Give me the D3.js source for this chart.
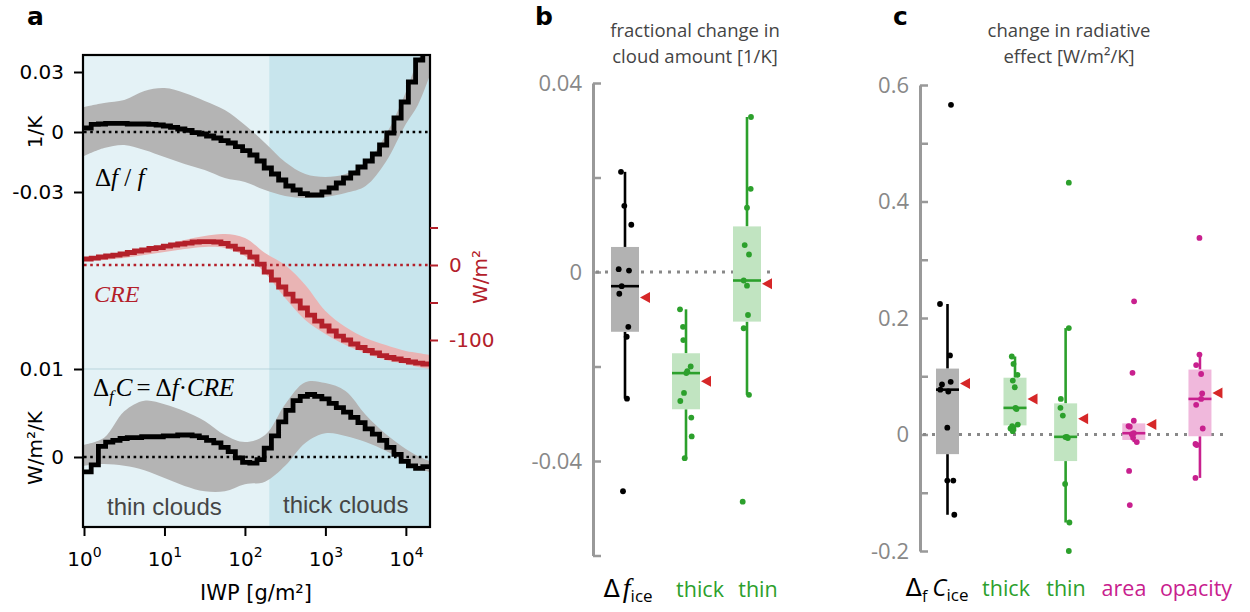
<!DOCTYPE html>
<html><head><meta charset="utf-8">
<script src="https://cdn.jsdelivr.net/npm/d3@7/dist/d3.min.js"></script>
<style>html,body{margin:0;padding:0;background:#fff}svg{display:block}</style>
</head><body>
<svg id="chart" width="1250" height="612"></svg>
<script>
// ================= DATA =================
// Panel a: IWP bins (log-spaced grid, 10^0 .. 10^4.3)
const iwpMaxExp = 4.3;
const nBins = 48;
const iwpEdges = d3.range(nBins + 1).map(i => Math.pow(10, i * iwpMaxExp / nBins));
const thickStart = 200; // g/m2, thin / thick cloud boundary
const xTicksA = [1, 10, 100, 1000, 10000];

// fractional change in cloud amount  Δf/f  [1/K]
const dff = [0.0020, 0.0038, 0.0040, 0.0043, 0.0043, 0.0043, 0.0040, 0.0040, 0.0040, 0.0038,
  0.0035, 0.0030, 0.0023, 0.0015, 0.0008, -0.0003, -0.0010, -0.0020, -0.0030, -0.0043,
  -0.0055, -0.0073, -0.0093, -0.0115, -0.0145, -0.0180, -0.0210, -0.0240, -0.0270, -0.0290,
  -0.0308, -0.0315, -0.0315, -0.0300, -0.0280, -0.0255, -0.0230, -0.0205, -0.0175, -0.0145,
  -0.0110, -0.0065, -0.0005, 0.0070, 0.0150, 0.0250, 0.0360, 0.0460];
// cloud radiative effect CRE [W/m2]
const cre = [8, 9.3, 10.7, 12, 13.3, 14.7, 16.7, 18.7, 20, 22,
  23.3, 25.3, 26.7, 28, 29.3, 30.7, 31.3, 31.3, 30.7, 28.7,
  25.3, 21.3, 17.3, 10.7, 1.3, -9.3, -20, -29.3, -38.7, -48,
  -57.3, -66.7, -74.7, -81.3, -88, -94.7, -100, -105.3, -110, -114,
  -117.3, -120.7, -123.3, -125.3, -127.3, -129.3, -130.7, -132];
// Δ_f C = Δf · CRE  [W/m2/K]
const dfc = [-0.0017, -0.0009, 0.0012, 0.0017, 0.0019, 0.0021, 0.0022, 0.0022, 0.0023, 0.0023,
  0.0023, 0.0024, 0.0024, 0.0025, 0.0025, 0.0024, 0.0022, 0.0019, 0.0016, 0.0011,
  0.0006, -0.0001, -0.0006, -0.0007, -0.0003, 0.0010, 0.0024, 0.0040, 0.0053, 0.0064,
  0.0069, 0.0071, 0.0069, 0.0066, 0.0061, 0.0056, 0.0051, 0.0045, 0.0039, 0.0032,
  0.0026, 0.0019, 0.0011, 0.0003, -0.0005, -0.0010, -0.0013, -0.0011];

// model-spread bands (sampled at these IWP values)
const bandIWP = [1, 1.778, 3.162, 5.623, 10, 17.78, 31.62, 56.23, 100, 177.8, 316.2, 562.3,
  1000, 1778, 3162, 5623, 10000, 14125, 19953];
const dffHi = [0.0125, 0.0145, 0.016, 0.0205, 0.022, 0.0195, 0.0155, 0.011, 0.0035, -0.0055,
  -0.015, -0.021, -0.0225, -0.021, -0.0155, -0.0015, 0.020, 0.036, 0.046];
const dffLo = [-0.012, -0.008, -0.0065, -0.009, -0.0125, -0.016, -0.019, -0.023, -0.025, -0.029,
  -0.032, -0.033, -0.0325, -0.0305, -0.027, -0.015, 0.004, 0.0135, 0.0285];
const creHi = [9.3, 12.7, 16.7, 21.3, 26.7, 33.3, 38.7, 41.3, 36, 16,
  0, -26.7, -61.3, -82.7, -97.3, -106.7, -114.7, -117.3, -120];
const creLo = [5.3, 6.7, 9.3, 13.3, 17.3, 21.3, 24, 22.7, 12, -10.7,
  -44, -73.3, -92, -106.7, -117.3, -126.7, -132, -136, -138.7];
const dfcHi = [0.0014, 0.0022, 0.0052, 0.0064, 0.0060, 0.0052, 0.0041, 0.0025, 0.0017, 0.0025,
  0.0060, 0.0085, 0.0084, 0.0075, 0.0048, 0.0026, 0.0009, 0.0001, -0.0005];
const dfcLo = [-0.0010, -0.0008, -0.0010, -0.0015, -0.0024, -0.0033, -0.0039, -0.0039, -0.0031, -0.0028,
  -0.0010, 0.0016, 0.0027, 0.0024, 0.0017, 0.0007, -0.0006, -0.0013, -0.0017];

// Panel b: fractional change in cloud amount [1/K], one value per model
const catsB = ["Δf_ice", "thick", "thin"];
const fracIce   = [0.0212, 0.0140, 0.0100, 0.0006, 0.0003, -0.0030, -0.0046, -0.0116, -0.0137, -0.0268, -0.0464];
const fracThick = [-0.0079, -0.0116, -0.0144, -0.0200, -0.0210, -0.0214, -0.0256, -0.0273, -0.0308, -0.0348, -0.0394];
const fracThin  = [0.0328, 0.0176, 0.0136, 0.0057, 0.0037, -0.0018, -0.0029, -0.0091, -0.0119, -0.0260, -0.0486];
const fracMean  = [-0.0054, -0.0231, -0.0025];
const yTicksB = [0.04, 0.02, 0, -0.02, -0.04, -0.06];
const yLabelsB = [0.04, 0, -0.04];

// Panel c: change in radiative effect [W/m2/K]
const catsC = ["ΔfC_ice", "thick", "thin", "area", "opacity"];
const radIce     = [0.566, 0.224, 0.1358, 0.0858, 0.0770, 0.0738, 0.0905, 0.0117, -0.0791, -0.0791, -0.1378];
const radThick   = [0.1339, 0.1212, 0.1025, 0.0925, 0.0811, 0.0438, 0.0457, 0.0170, 0.0143, 0.0103, 0.0057];
const radThin    = [0.4324, 0.1827, 0.0611, 0.0458, 0.0325, -0.0040, -0.0045, -0.0062, -0.0850, -0.1511, -0.2000];
const radArea    = [0.2287, 0.1058, 0.0237, 0.0145, 0.0135, 0.0022, 0.0005, -0.0057, -0.0130, -0.0625, -0.1212];
const radOpacity = [0.3375, 0.1372, 0.1191, 0.1039, 0.0704, 0.0611, 0.0510, 0.0103, -0.0163, -0.0180, -0.0745];
const radMean    = [0.0877, 0.0611, 0.0270, 0.0170, 0.0711];
const yTicksC = [0.6, 0.5, 0.4, 0.3, 0.2, 0.1, 0, -0.1, -0.2];
const yLabelsC = [0.6, 0.4, 0.2, 0, -0.2];

// ================= LAYOUT / STYLE =================
const GREEN = '#2ca02c', MAG = '#c8208e', TRI = '#d62728', CREC = '#b3202a';
const jitB = [[-4, -0.7, 6.3, -6.3, 4, -3.3, -5.7, 3.3, 1.7, 2, -2],
              [-6, -3, -2.7, 4.7, 1.3, 0.3, -2, -5.7, 5.3, 5.7, -1.3],
              [4, 3.7, 0, -2.3, 2, -3.3, 0, 1, -3.3, 2, -4.3]];
const jitC = [[3.5, -7.5, 2.5, -5.5, -7.2, 0.8, 3.2, -0.2, -0.2, 5.8, 6.8],
              [-3.2, -1.5, 2.5, -2.2, -0.2, 1.5, 0.5, 2.8, -2.8, -4.5, -2.2],
              [3.2, 3.2, -4.8, -5.2, -2.8, 1.2, -0.2, 2.2, -0.5, 3.8, 3.2],
              [0.3, -1.3, 0, -5.3, -4, 0, -2, -0.7, 3, -4.7, -4],
              [-0.5, -0.5, -3.8, 1.2, 2.2, 1.2, -3.8, 2.8, -4.5, -3.2, -4.5]];

const svg = d3.select('#chart');
const defs = svg.append('defs');

// ================= PANEL A =================
const A = {left: 84, right: 430, top: 55, bottom: 527};
const xA = d3.scaleLog().domain([1, Math.pow(10, iwpMaxExp)]).range([A.left, A.right]);
const yTop = d3.scaleLinear().domain([-0.03, 0.03]).range([192, 72]);
const yMid = d3.scaleLinear().domain([-100, 0]).range([340, 265]);
const yBot = d3.scaleLinear().domain([0, 0.01]).range([457, 369]);

defs.append('clipPath').attr('id', 'clipA').append('rect')
  .attr('x', A.left).attr('y', A.top).attr('width', A.right - A.left).attr('height', A.bottom - A.top);
const gA = svg.append('g');
const pA = gA.append('g').attr('clip-path', 'url(#clipA)');

pA.append('rect').attr('x', A.left).attr('y', A.top)
  .attr('width', xA(thickStart) - A.left).attr('height', A.bottom - A.top).attr('fill', '#e4f2f6');
pA.append('rect').attr('x', xA(thickStart)).attr('y', A.top)
  .attr('width', A.right - xA(thickStart)).attr('height', A.bottom - A.top).attr('fill', '#c8e5ed');
pA.append('line').attr('x1', A.left).attr('x2', A.right).attr('y1', yBot(0.01)).attr('y2', yBot(0.01))
  .attr('stroke', '#9cc3cf').attr('stroke-width', 1).attr('opacity', 0.6);

function band(lo, hi, ys, fill) {
  const data = bandIWP.map((v, i) => ({x: v, lo: lo[i], hi: hi[i]}));
  pA.append('path').datum(data).attr('fill', fill)
    .attr('d', d3.area().x(d => xA(d.x)).y0(d => ys(d.lo)).y1(d => ys(d.hi)).curve(d3.curveCatmullRom.alpha(0.5)));
}
function steps(vals, ys, color) {
  const data = iwpEdges.map((e, i) => [e, vals[Math.min(i, vals.length - 1)]]);
  pA.append('path').datum(data).attr('fill', 'none').attr('stroke', color).attr('stroke-width', 4.8)
    .attr('stroke-linejoin', 'miter')
    .attr('d', d3.line().x(d => xA(d[0])).y(d => ys(d[1])).curve(d3.curveStepAfter));
}
function zeroLine(ys, color) {
  pA.append('line').attr('x1', A.left).attr('x2', A.right).attr('y1', ys(0)).attr('y2', ys(0))
    .attr('stroke', color).attr('stroke-width', 2.6).attr('stroke-dasharray', '2.6,3.6');
}
band(dffLo, dffHi, yTop, '#b4b4b4');
band(creLo, creHi, yMid, '#e9b4b4');
band(dfcLo, dfcHi, yBot, '#b4b4b4');
zeroLine(yTop, '#000');
zeroLine(yMid, CREC);
zeroLine(yBot, '#000');
steps(dff, yTop, '#000');
steps(cre, yMid, CREC);
steps(dfc, yBot, '#000');

// math labels
const serif = 'Liberation Serif';
let t = gA.append('text').attr('x', 95).attr('y', 186).attr('font-family', serif).attr('font-size', 25).attr('fill', '#000');
t.append('tspan').text('Δ');
t.append('tspan').attr('font-style', 'italic').text('f');
t.append('tspan').text(' / ');
t.append('tspan').attr('font-style', 'italic').text('f');

gA.append('text').attr('x', 94).attr('y', 302).attr('font-family', serif).attr('font-size', 24)
  .attr('font-style', 'italic').attr('fill', CREC).text('CRE');

t = gA.append('text').attr('x', 93).attr('y', 396).attr('font-family', serif).attr('font-size', 25).attr('fill', '#000');
t.append('tspan').text('Δ');
t.append('tspan').attr('font-style', 'italic').attr('font-size', 17).attr('dy', 6).text('f');
t.append('tspan').attr('font-style', 'italic').attr('dy', -6).attr('dx', 2).text('C');
t.append('tspan').attr('dx', 4).text('=');
t.append('tspan').attr('dx', 5).text('Δ');
t.append('tspan').attr('font-style', 'italic').text('f');
t.append('tspan').text('·');
t.append('tspan').attr('font-style', 'italic').text('CRE');

gA.append('text').attr('x', 107).attr('y', 515).attr('font-family', 'Liberation Sans').attr('font-size', 24)
  .attr('fill', '#454545').text('thin clouds');
gA.append('text').attr('x', 283).attr('y', 513).attr('font-family', 'Liberation Sans').attr('font-size', 24)
  .attr('fill', '#454545').text('thick clouds');

// frame
gA.append('rect').attr('x', 83).attr('y', A.top).attr('width', A.right - 83).attr('height', A.bottom - A.top)
  .attr('fill', 'none').attr('stroke', '#000').attr('stroke-width', 2.2);

function styleAxis(g, color, font, size) {
  g.select('.domain').remove();
  g.selectAll('.tick line').attr('stroke', color).attr('stroke-width', 2);
  g.selectAll('.tick text').attr('fill', color).attr('font-family', font).attr('font-size', size);
}
const fmtA = d => String(d);
gA.append('g').attr('transform', 'translate(83,0)')
  .call(d3.axisLeft(yTop).tickValues([-0.03, 0, 0.03]).tickFormat(fmtA).tickSize(9).tickPadding(10))
  .call(g => styleAxis(g, '#000', 'DejaVu Sans', 20));
gA.append('g').attr('transform', 'translate(83,0)')
  .call(d3.axisLeft(yBot).tickValues([0, 0.01]).tickFormat(fmtA).tickSize(9).tickPadding(10))
  .call(g => styleAxis(g, '#000', 'DejaVu Sans', 20));
gA.append('g').attr('transform', `translate(${A.right},0)`)
  .call(d3.axisRight(yMid).tickValues([50, 0, -50, -100]).tickFormat(d => (d === 0 || d === -100) ? String(d) : '').tickSize(8).tickPadding(11))
  .call(g => styleAxis(g, CREC, 'DejaVu Sans', 20));
const gx = gA.append('g').attr('transform', `translate(0,${A.bottom})`)
  .call(d3.axisBottom(xA).tickValues(xTicksA).tickFormat('').tickSize(9));
styleAxis(gx, '#000', 'DejaVu Sans', 20);
gx.selectAll('.tick').each(function(d) {
  const tt = d3.select(this).append('text').attr('y', 39).attr('text-anchor', 'middle')
    .attr('font-family', 'DejaVu Sans').attr('font-size', 20).attr('fill', '#000');
  tt.append('tspan').text('10');
  tt.append('tspan').attr('font-size', 14).attr('dy', -9).text(Math.round(Math.log10(d)));
});
gA.append('text').attr('x', 256).attr('y', 600).attr('text-anchor', 'middle')
  .attr('font-family', 'DejaVu Sans').attr('font-size', 21).text('IWP [g/m²]');
gA.append('text').attr('transform', 'translate(42,132) rotate(-90)').attr('text-anchor', 'middle')
  .attr('font-family', 'DejaVu Sans').attr('font-size', 20).text('1/K');
gA.append('text').attr('transform', 'translate(42,448) rotate(-90)').attr('text-anchor', 'middle')
  .attr('font-family', 'DejaVu Sans').attr('font-size', 20).text('W/m²/K');
gA.append('text').attr('transform', 'translate(487,277) rotate(-90)').attr('text-anchor', 'middle')
  .attr('font-family', 'DejaVu Sans').attr('font-size', 20).attr('fill', CREC).text('W/m²');
svg.append('text').attr('x', 27).attr('y', 25).attr('font-family', 'DejaVu Sans').attr('font-weight', 'bold')
  .attr('font-size', 25).text('a');

// ================= BOX PANELS =================
function boxStats(vals) {
  const s = vals.slice().sort(d3.ascending);
  const q1 = d3.quantileSorted(s, 0.25), med = d3.quantileSorted(s, 0.5), q3 = d3.quantileSorted(s, 0.75);
  const iqr = q3 - q1;
  const lo = d3.min(s.filter(v => v >= q1 - 1.5 * iqr));
  const hi = d3.max(s.filter(v => v <= q3 + 1.5 * iqr));
  return {q1, med, q3, lo, hi};
}

function boxPanel(cfg) {
  const g = svg.append('g');
  const y = cfg.y;
  g.append('g').attr('transform', `translate(${cfg.spineX},0)`)
    .call(d3.axisRight(y).tickValues(cfg.ticks).tickFormat('').tickSize(8).tickSizeOuter(0))
    .call(gg => {
      gg.select('.domain').attr('stroke', '#999').attr('stroke-width', 3);
      gg.selectAll('.tick line').attr('stroke', '#999').attr('stroke-width', 2.5);
    });
  g.selectAll('text.ylab').data(cfg.labels).join('text').attr('class', 'ylab')
    .attr('x', cfg.spineX - 11).attr('y', d => y(d)).attr('dy', '0.36em').attr('text-anchor', 'end')
    .attr('font-family', 'Open Sans').attr('font-size', 22).attr('fill', '#888')
    .text(d => String(d));
  g.append('line').attr('x1', cfg.spineX + 3).attr('x2', cfg.zeroEnd).attr('y1', y(0)).attr('y2', y(0))
    .attr('stroke', '#888').attr('stroke-width', 3).attr('stroke-dasharray', '3,6');
  cfg.series.forEach((vals, i) => {
    const cx = cfg.xs(cfg.pos[i]);
    const st = boxStats(vals);
    const col = cfg.colors[i];
    const hw = cfg.halfW;
    g.append('line').attr('x1', cx).attr('x2', cx).attr('y1', y(st.q3)).attr('y2', y(st.hi))
      .attr('stroke', col).attr('stroke-width', 2.6);
    g.append('line').attr('x1', cx).attr('x2', cx).attr('y1', y(st.q1)).attr('y2', y(st.lo))
      .attr('stroke', col).attr('stroke-width', 2.6);
    g.append('rect').attr('x', cx - hw).attr('y', y(st.q3)).attr('width', 2 * hw)
      .attr('height', y(st.q1) - y(st.q3)).attr('fill', cfg.fills[i]);
    g.append('line').attr('x1', cx - hw).attr('x2', cx + hw).attr('y1', y(st.med)).attr('y2', y(st.med))
      .attr('stroke', col).attr('stroke-width', 2.6);
    g.selectAll(null).data(vals).join('circle')
      .attr('cx', (d, j) => cx + cfg.jit[i][j]).attr('cy', d => y(d)).attr('r', 2.9).attr('fill', col);
    const ty = y(cfg.means[i]), tx = cx + hw + 1;
    g.append('path').attr('d', `M${tx},${ty} L${tx + 10},${ty - 5.5} L${tx + 10},${ty + 5.5} Z`).attr('fill', TRI);
  });
  return g;
}

// Panel b
const yB = d3.scaleLinear().domain([-0.06, 0.04]).range([555.5, 83]);
const gB = boxPanel({
  y: yB, spineX: 593, ticks: yTicksB, labels: yLabelsB, zeroEnd: 776,
  xs: d3.scaleLinear().domain([0, 1]).range([625, 686]), pos: [0, 1, 2], halfW: 14,
  series: [fracIce, fracThick, fracThin], means: fracMean, jit: jitB,
  colors: ['#000', GREEN, GREEN], fills: ['#b2b2b2', '#c1e4c1', '#c1e4c1']
});
gB.append('text').attr('x', 695).attr('y', 37).attr('text-anchor', 'middle').attr('font-family', 'Open Sans')
  .attr('font-size', 18.5).attr('fill', '#444').text('fractional change in');
gB.append('text').attr('x', 695).attr('y', 63).attr('text-anchor', 'middle').attr('font-family', 'Open Sans')
  .attr('font-size', 18.5).attr('fill', '#444').text('cloud amount [1/K]');
svg.append('text').attr('x', 535).attr('y', 25).attr('font-family', 'DejaVu Sans').attr('font-weight', 'bold')
  .attr('font-size', 25).text('b');
const labXB = [628, 700, 758];
t = gB.append('text').attr('x', labXB[0]).attr('y', 597).attr('text-anchor', 'middle').attr('font-size', 24);
t.append('tspan').attr('font-family', 'DejaVu Sans').text('Δ');
t.append('tspan').attr('font-family', serif).attr('font-style', 'italic').attr('font-size', 28).attr('dx', 3).text('f');
t.append('tspan').attr('font-family', 'Open Sans').attr('font-size', 17).attr('dy', 5).text('ice');
[1, 2].forEach(i => gB.append('text').attr('x', labXB[i]).attr('y', 597).attr('text-anchor', 'middle')
  .attr('font-family', 'Open Sans').attr('font-size', 21.5).attr('fill', GREEN).text(catsB[i]));

// Panel c
const yC = d3.scaleLinear().domain([-0.2, 0.6]).range([551, 85]);
const gC = boxPanel({
  y: yC, spineX: 920, ticks: yTicksC, labels: yLabelsC, zeroEnd: 1224,
  xs: d3.scaleLinear().domain([0, 1]).range([947.5, 1015]), pos: [0, 1, 1.75, 2.76, 3.74], halfW: 11.5,
  series: [radIce, radThick, radThin, radArea, radOpacity], means: radMean, jit: jitC,
  colors: ['#000', GREEN, GREEN, MAG, MAG], fills: ['#b2b2b2', '#c1e4c1', '#c1e4c1', '#f0b8dc', '#f0b8dc']
});
gC.append('text').attr('x', 1069).attr('y', 37).attr('text-anchor', 'middle').attr('font-family', 'Open Sans')
  .attr('font-size', 18.5).attr('fill', '#444').text('change in radiative');
gC.append('text').attr('x', 1069).attr('y', 63).attr('text-anchor', 'middle').attr('font-family', 'Open Sans')
  .attr('font-size', 18.5).attr('fill', '#444').text('effect [W/m²/K]');
svg.append('text').attr('x', 893).attr('y', 25).attr('font-family', 'DejaVu Sans').attr('font-weight', 'bold')
  .attr('font-size', 25).text('c');
const labXC = [937, 1006, 1066, 1124, 1196];
const labColC = ['#000', GREEN, GREEN, MAG, MAG];
t = gC.append('text').attr('x', labXC[0]).attr('y', 596).attr('text-anchor', 'middle').attr('font-size', 24).attr('font-family', 'Open Sans');
t.append('tspan').attr('font-family', 'DejaVu Sans').text('Δ');
t.append('tspan').attr('font-size', 16).attr('dy', 6).text('f');
t.append('tspan').attr('font-style', 'italic').attr('dy', -6).attr('dx', 5).text('C');
t.append('tspan').attr('font-size', 17).attr('dy', 5).text('ice');
[1, 2, 3, 4].forEach(i => gC.append('text').attr('x', labXC[i]).attr('y', 596).attr('text-anchor', 'middle')
  .attr('font-family', 'Open Sans').attr('font-size', 21.5).attr('fill', labColC[i]).text(catsC[i]));
</script>
</body></html>
